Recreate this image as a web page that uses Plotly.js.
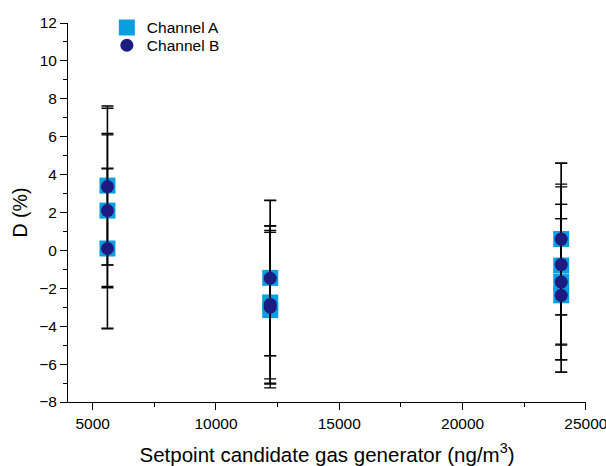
<!DOCTYPE html>
<html><head><meta charset="utf-8">
<script src="https://cdn.plot.ly/plotly-3.0.1.min.js"></script>
<style>body{margin:0;padding:0;background:#fff}#chart{width:606px;height:466px}</style>
</head><body><div id="chart"></div>
<script>
var setpointsA = [5600, 5600, 5600, 12200, 12200, 12200, 24000, 24000, 24000, 24000];
var channelA = [3.42, 2.1, 0.1, -1.45, -2.75, -3.15, 0.6, -0.8, -1.67, -2.37];
var channelAErr = [4.2, 4.07, 4.24, 4.1, 4.03, 4.1, 4.0, 4.15, 4.1, 4.05];
var setpointsB = [5600, 5600, 5600, 12200, 12200, 12200, 24000, 24000, 24000, 24000];
var channelB = [3.37, 2.1, 0.1, -1.47, -2.85, -3.0, 0.6, -0.75, -1.67, -2.37];
var channelBErr = [4.13, 4.0, 4.2, 4.1, 4.15, 4.05, 4.0, 4.25, 4.1, 4.05];
var xTickVals = [5000, 10000, 15000, 20000, 25000];
var xTickText = ['5000', '10000', '15000', '20000', '25000'];

var errStyle = {color:'#000', thickness:1.3, width:6};
var traces = [
  {x:setpointsA, y:channelA, name:'Channel A', type:'scatter', mode:'markers', legend:'legend',
   marker:{symbol:'square', size:16, color:'#0a9de0'},
   error_y:Object.assign({type:'data', array:channelAErr, visible:true}, errStyle)},
  {x:setpointsB, y:channelB, name:'Channel B', type:'scatter', mode:'markers', legend:'legend2',
   marker:{symbol:'circle', size:13, color:'#1c1c80'},
   error_y:Object.assign({type:'data', array:channelBErr, visible:true}, errStyle)}
];
var font = {family:'Liberation Sans, Arial, sans-serif', color:'#000'};
var legBase = {xanchor:'left', yanchor:'top', bgcolor:'rgba(0,0,0,0)', font:Object.assign({size:15.5}, font), itemwidth:30, tracegroupgap:0};
var layout = {
  width:606, height:466,
  margin:{l:68, r:20, t:23, b:64, autoexpand:false},
  paper_bgcolor:'#fff', plot_bgcolor:'#fff',
  font:Object.assign({size:15.5}, font),
  showlegend:true,
  legend:Object.assign({x:0.075, y:1.032}, legBase),
  legend2:Object.assign({x:0.075, y:0.985}, legBase),
  xaxis:{range:[4000,25005], automargin:false, showgrid:false, zeroline:false, showline:true, linecolor:'#000', linewidth:1,
    ticks:'outside', ticklen:7, tickcolor:'#000', tickvals:xTickVals, ticktext:xTickText, ticklabeloverflow:'allow',
    minor:{tickvals:[7500,12500,17500,22500], ticks:'outside', ticklen:4, tickcolor:'#000'},
    tickfont:Object.assign({size:15.5}, font),
    title:{text:'Setpoint candidate gas generator (ng/m<sup>3</sup>)', font:Object.assign({size:20.5}, font), standoff:18}},
  yaxis:{range:[-8,12], automargin:false, showgrid:false, zeroline:false, showline:true, linecolor:'#000', linewidth:1,
    ticks:'outside', ticklen:7, tickcolor:'#000', dtick:2, tick0:0,
    minor:{dtick:1, ticks:'outside', ticklen:4, tickcolor:'#000'},
    tickfont:Object.assign({size:15.5}, font),
    title:{text:'D (%)', font:Object.assign({size:19.5}, font), standoff:6}}
};
Plotly.newPlot('chart', traces, layout, {displayModeBar:false, staticPlot:true});
</script></body></html>
